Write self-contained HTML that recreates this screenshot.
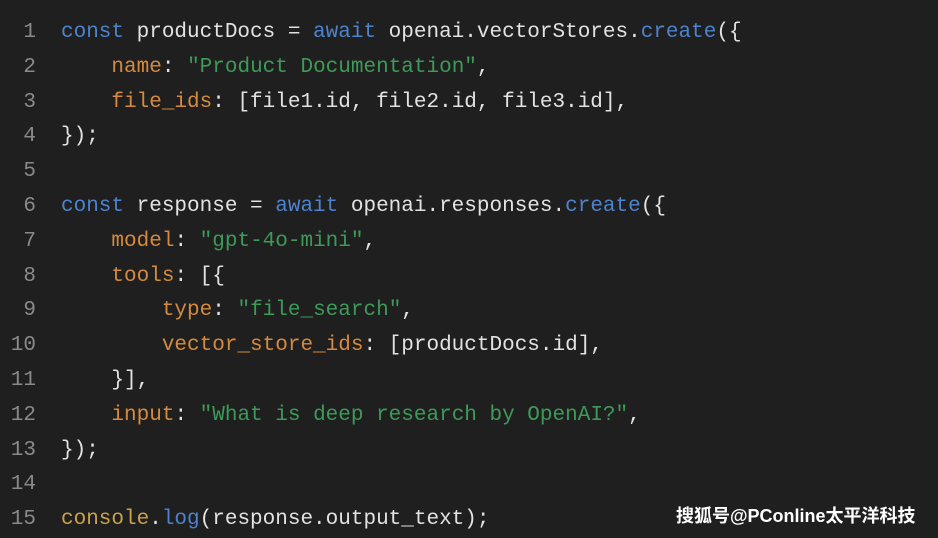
<!DOCTYPE html>
<html><head><meta charset="utf-8"><style>
html,body{margin:0;padding:0;background:#1f1f1f;width:938px;height:538px;overflow:hidden}
pre{position:absolute;left:0;top:16px;margin:0;font-family:"Liberation Mono",monospace;font-size:21px;line-height:34.8px;color:#e2e2e2}
.n{display:inline-block;width:36px;text-align:right;color:#8a8a8a;margin-right:25px}
.k{color:#4d83cc}.p{color:#d58a3e}.s{color:#3d9a58}.f{color:#c9a24a}
.w{position:absolute;left:676px;top:505px;white-space:nowrap;font-family:"Liberation Sans","Noto Sans CJK SC",sans-serif;font-size:18px;line-height:22px;color:#fff;font-weight:bold}
</style></head><body>
<pre><span class="n">1</span><span class="k">const</span> productDocs = <span class="k">await</span> openai.vectorStores.<span class="k">create</span>({
<span class="n">2</span>    <span class="p">name</span>: <span class="s">"Product Documentation"</span>,
<span class="n">3</span>    <span class="p">file_ids</span>: [file1.id, file2.id, file3.id],
<span class="n">4</span>});
<span class="n">5</span>
<span class="n">6</span><span class="k">const</span> response = <span class="k">await</span> openai.responses.<span class="k">create</span>({
<span class="n">7</span>    <span class="p">model</span>: <span class="s">"gpt-4o-mini"</span>,
<span class="n">8</span>    <span class="p">tools</span>: [{
<span class="n">9</span>        <span class="p">type</span>: <span class="s">"file_search"</span>,
<span class="n">10</span>        <span class="p">vector_store_ids</span>: [productDocs.id],
<span class="n">11</span>    }],
<span class="n">12</span>    <span class="p">input</span>: <span class="s">"What is deep research by OpenAI?"</span>,
<span class="n">13</span>});
<span class="n">14</span>
<span class="n">15</span><span class="f">console</span>.<span class="k">log</span>(response.output_text);</pre>
<div class="w">搜狐号@PConline太平洋科技</div>
</body></html>
